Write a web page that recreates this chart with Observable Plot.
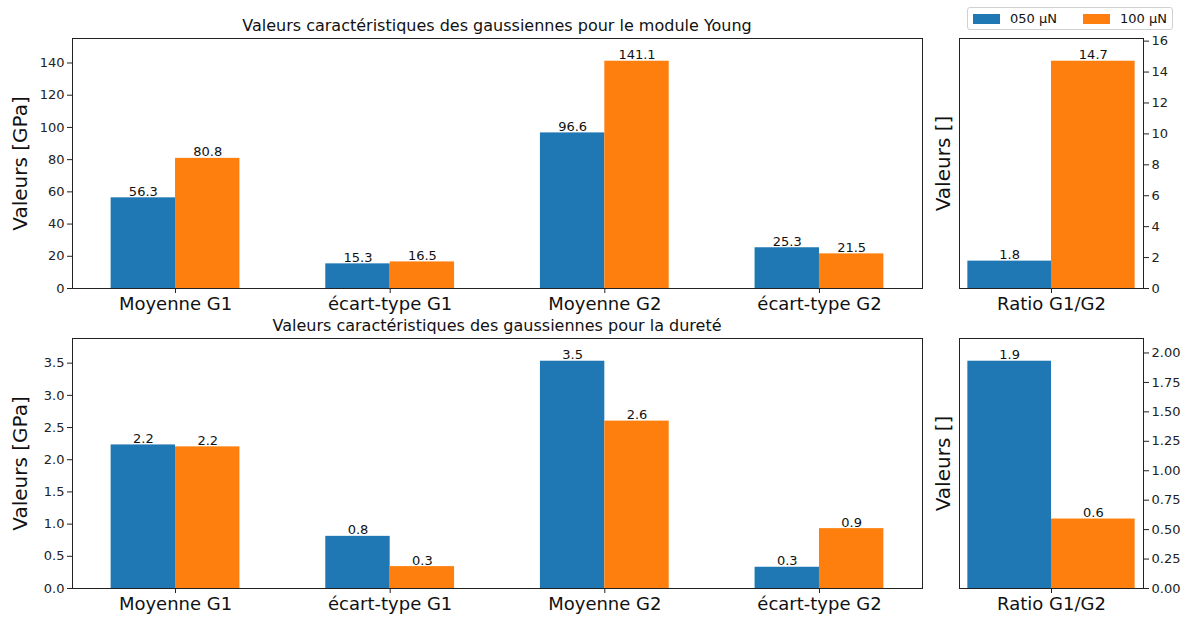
<!DOCTYPE html>
<html><head><meta charset="utf-8">
<script src="https://cdn.jsdelivr.net/npm/d3@7"></script>
<script src="https://cdn.jsdelivr.net/npm/@observablehq/plot@0.6"></script>
<style>
body{margin:0;background:#fff;font-family:"DejaVu Sans",sans-serif;}
#root{position:relative;width:1190px;height:619px;overflow:hidden;background:#fff;}
.panel{position:absolute;}
.title{position:absolute;font-size:16px;color:#111;white-space:nowrap;transform:translate(-50%,-50%);z-index:2;}
.legend{position:absolute;left:967px;top:7px;width:206px;height:23px;border:1px solid #d0d0d0;border-radius:3px;box-sizing:border-box;font-size:13px;color:#111;z-index:2;}
.sw{position:absolute;top:6px;width:27px;height:10px;}
.lt{position:absolute;top:3px;line-height:16px;}
</style></head><body><div id="root"></div>
<script>
const categories = ["Moyenne G1", "écart-type G1", "Moyenne G2", "écart-type G2"];
const ratioCategory = ["Ratio G1/G2"];
const seriesNames = ["050 µN", "100 µN"];
const seriesColors = ["#1f77b4", "#ff7f0e"];

const young050 = [56.3, 15.3, 96.6, 25.3];
const young100 = [80.8, 16.5, 141.1, 21.5];
const youngRatio050 = [1.77];
const youngRatio100 = [14.7];

const durete050 = [2.23, 0.81, 3.53, 0.33];
const durete100 = [2.20, 0.34, 2.60, 0.93];
const dureteRatio050 = [1.93];
const dureteRatio100 = [0.59];

const youngTicks = [0, 20, 40, 60, 80, 100, 120, 140];
const youngRatioTicks = [0, 2, 4, 6, 8, 10, 12, 14, 16];
const dureteTicks = [0, 0.5, 1, 1.5, 2, 2.5, 3, 3.5];
const dureteRatioTicks = [0, 0.25, 0.5, 0.75, 1, 1.25, 1.5, 1.75, 2];

const titleYoung = "Valeurs caractéristiques des gaussiennes pour le module Young";
const titleDurete = "Valeurs caractéristiques des gaussiennes pour la dureté";

const root = document.getElementById("root");
const W = 0.3;

function panel(o) {
  const rows = [];
  o.cats.forEach((c, i) => {
    [o.a, o.b].forEach((vals, s) => {
      rows.push({cat: c, series: seriesNames[s], value: vals[i],
        x1: s === 0 ? i - W : i, x2: s === 0 ? i : i + W, xc: s === 0 ? i - W / 2 : i + W / 2});
    });
  });
  const ymax = d3.max([...o.a, ...o.b]) * 1.1;
  const chart = Plot.plot({
    width: o.width, height: o.height,
    marginLeft: o.ml, marginRight: o.mr, marginTop: o.mt, marginBottom: o.mb,
    style: {background: "transparent", fontFamily: "DejaVu Sans", color: "#111", overflow: "visible"},
    x: {domain: o.xDomain, axis: null},
    y: {domain: [0, ymax], axis: null},
    color: {domain: seriesNames, range: seriesColors},
    marks: [
      Plot.rect(rows, {x1: "x1", x2: "x2", y1: 0, y2: "value", fill: "series"}),
      Plot.text(rows, {x: "xc", y: "value", text: d => d.value.toFixed(1), dy: -2, lineAnchor: "bottom", fontSize: 13, fill: "#111"}),
      Plot.frame({stroke: "#222", strokeWidth: 1}),
      Plot.axisX(o.cats.map((c, i) => i), {tickFormat: i => o.cats[i], tickSize: 5, tickPadding: 4, fontSize: 18, label: null, stroke: "#222", fill: "#111"}),
      Plot.axisY(o.ticks, {anchor: o.side, tickFormat: o.fmt, tickSize: 5, tickPadding: 3, fontSize: 13, label: null, stroke: "#222", fill: "#222"}),
      Plot.text([o.label], {frameAnchor: "left", rotate: -90, dx: o.labelDx, fontSize: 20, textAnchor: "middle", lineAnchor: "middle", fill: "#111"})
    ]
  });
  chart.classList.add("panel");
  chart.style.left = o.left + "px";
  chart.style.top = o.top + "px";
  root.appendChild(chart);
}

const f0 = d3.format("d"), f1 = d3.format(".1f"), f2 = d3.format(".2f");

panel({a: young050, b: young100, cats: categories, ticks: youngTicks, fmt: f0, label: "Valeurs [GPa]",
  left: 0, top: 0, width: 930, height: 320, ml: 72, mr: 8, mt: 38, mb: 32, xDomain: [-0.48, 3.48], side: "left", labelDx: -52});
panel({a: youngRatio050, b: youngRatio100, cats: ratioCategory, ticks: youngRatioTicks, fmt: f0, label: "Valeurs []",
  left: 930, top: 0, width: 260, height: 320, ml: 29, mr: 47, mt: 38, mb: 32, xDomain: [-0.33, 0.33], side: "right", labelDx: -16});
panel({a: durete050, b: durete100, cats: categories, ticks: dureteTicks, fmt: f1, label: "Valeurs [GPa]",
  left: 0, top: 300, width: 930, height: 319, ml: 72, mr: 8, mt: 38, mb: 31, xDomain: [-0.48, 3.48], side: "left", labelDx: -52});
panel({a: dureteRatio050, b: dureteRatio100, cats: ratioCategory, ticks: dureteRatioTicks, fmt: f2, label: "Valeurs []",
  left: 930, top: 300, width: 260, height: 319, ml: 29, mr: 47, mt: 38, mb: 31, xDomain: [-0.33, 0.33], side: "right", labelDx: -16});

function addTitle(text, x, y) {
  const d = document.createElement("div");
  d.className = "title"; d.textContent = text;
  d.style.left = x + "px"; d.style.top = y + "px";
  root.appendChild(d);
}
addTitle(titleYoung, 497, 25);
addTitle(titleDurete, 497, 325);

const lg = document.createElement("div");
lg.className = "legend";
const swX = [5, 115], txX = [42, 152];
seriesNames.forEach((n, i) => {
  const s = document.createElement("div");
  s.className = "sw"; s.style.left = swX[i] + "px"; s.style.background = seriesColors[i];
  const t = document.createElement("div");
  t.className = "lt"; t.style.left = txX[i] + "px"; t.textContent = n;
  lg.appendChild(s); lg.appendChild(t);
});
root.appendChild(lg);
</script>
</body></html>
